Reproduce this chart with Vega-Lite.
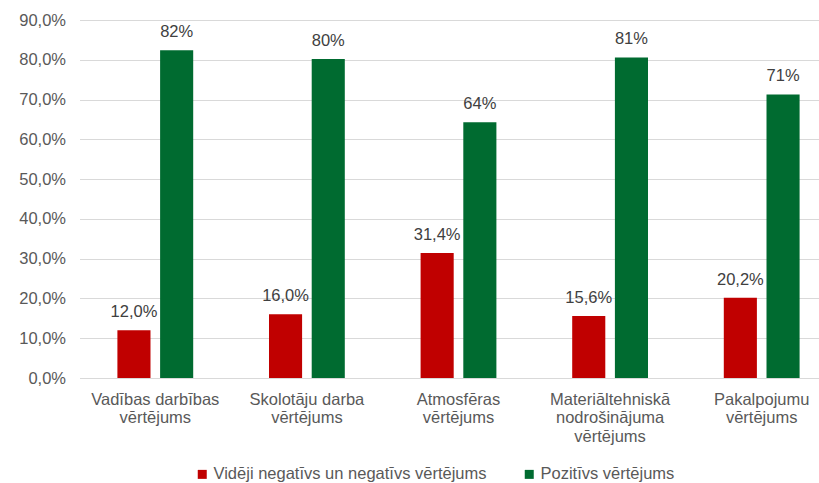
{
  "$schema": "https://vega.github.io/schema/vega-lite/v6.json",
  "width": 739,
  "height": 358,
  "autosize": {"type": "none"},
  "padding": {"left": 79.5, "top": 20, "right": 0.5, "bottom": 105},
  "background": "white",
  "config": {
    "locale": {"number": {"decimal": ",", "thousands": " ", "grouping": [3], "currency": ["", " €"]}},
    "font": "Liberation Sans",
    "view": {"stroke": null},
    "axis": {"labelFont": "Liberation Sans", "labelFontSize": 16.5, "labelColor": "#595959", "ticks": false, "title": null}
  },
  "data": {
    "values": [
      {"kategorija": "Vadības darbības vērtējums", "vertejums": "Vidēji negatīvs un negatīvs vērtējums", "vertiba": 0.120},
      {"kategorija": "Vadības darbības vērtējums", "vertejums": "Pozitīvs vērtējums", "vertiba": 0.824},
      {"kategorija": "Skolotāju darba vērtējums", "vertejums": "Vidēji negatīvs un negatīvs vērtējums", "vertiba": 0.160},
      {"kategorija": "Skolotāju darba vērtējums", "vertejums": "Pozitīvs vērtējums", "vertiba": 0.802},
      {"kategorija": "Atmosfēras vērtējums", "vertejums": "Vidēji negatīvs un negatīvs vērtējums", "vertiba": 0.314},
      {"kategorija": "Atmosfēras vērtējums", "vertejums": "Pozitīvs vērtējums", "vertiba": 0.643},
      {"kategorija": "Materiāltehniskā nodrošinājuma vērtējums", "vertejums": "Vidēji negatīvs un negatīvs vērtējums", "vertiba": 0.156},
      {"kategorija": "Materiāltehniskā nodrošinājuma vērtējums", "vertejums": "Pozitīvs vērtējums", "vertiba": 0.806},
      {"kategorija": "Pakalpojumu vērtējums", "vertejums": "Vidēji negatīvs un negatīvs vērtējums", "vertiba": 0.202},
      {"kategorija": "Pakalpojumu vērtējums", "vertejums": "Pozitīvs vērtējums", "vertiba": 0.713}
    ]
  },
  "encoding": {
    "x": {
      "field": "kategorija",
      "type": "nominal",
      "sort": null,
      "scale": {"range": [0, 758], "paddingInner": 0.5, "paddingOuter": 0.25},
      "axis": {
        "labelAngle": 0,
        "domain": true,
        "domainColor": "#D9D9D9",
        "domainWidth": 1,
        "grid": false,
        "labelPadding": 13,
        "labelLineHeight": 18.5,
        "labelBaseline": "top",
        "labelLimit": 0,
        "labelExpr": "datum.label == 'Materiāltehniskā nodrošinājuma vērtējums' ? ['Materiāltehniskā', 'nodrošinājuma', 'vērtējums'] : [replace(datum.label, ' vērtējums', ''), 'vērtējums']"
      }
    },
    "xOffset": {
      "field": "vertejums",
      "type": "nominal",
      "sort": ["Vidēji negatīvs un negatīvs vērtējums", "Pozitīvs vērtējums"],
      "scale": {"paddingInner": 0.225, "paddingOuter": 0}
    },
    "y": {
      "field": "vertiba",
      "type": "quantitative",
      "scale": {"domain": [0, 0.9], "nice": false},
      "axis": {
        "values": [0, 0.1, 0.2, 0.3, 0.4, 0.5, 0.6, 0.7, 0.8, 0.9],
        "format": ".1%",
        "domain": false,
        "grid": true,
        "gridColor": "#D9D9D9",
        "gridWidth": 1,
        "labelPadding": 14
      }
    }
  },
  "layer": [
    {
      "mark": {"type": "bar"},
      "encoding": {
        "color": {
          "field": "vertejums",
          "type": "nominal",
          "scale": {"domain": ["Vidēji negatīvs un negatīvs vērtējums", "Pozitīvs vērtējums"], "range": ["#C00000", "#006B30"]},
          "legend": {
            "title": null,
            "orient": "none",
            "direction": "horizontal",
            "legendX": 114.5,
            "legendY": 446,
            "symbolType": "square",
            "symbolSize": 81,
            "symbolStrokeWidth": 0,
            "labelFontSize": 16.5,
            "labelColor": "#595959",
            "labelFont": "Liberation Sans",
            "labelOffset": 3,
            "columnPadding": 34,
            "labelLimit": 0,
            "padding": 0
          }
        }
      }
    },
    {
      "transform": [{"filter": "datum.vertejums == 'Vidēji negatīvs un negatīvs vērtējums'"}],
      "mark": {"type": "text", "baseline": "alphabetic", "dy": -13, "fontSize": 16.5, "color": "#404040", "font": "Liberation Sans"},
      "encoding": {"text": {"field": "vertiba", "type": "quantitative", "format": ".1%"}}
    },
    {
      "transform": [{"filter": "datum.vertejums == 'Pozitīvs vērtējums'"}],
      "mark": {"type": "text", "baseline": "alphabetic", "dy": -13, "fontSize": 16.5, "color": "#404040", "font": "Liberation Sans"},
      "encoding": {"text": {"field": "vertiba", "type": "quantitative", "format": ".0%"}}
    }
  ]
}
